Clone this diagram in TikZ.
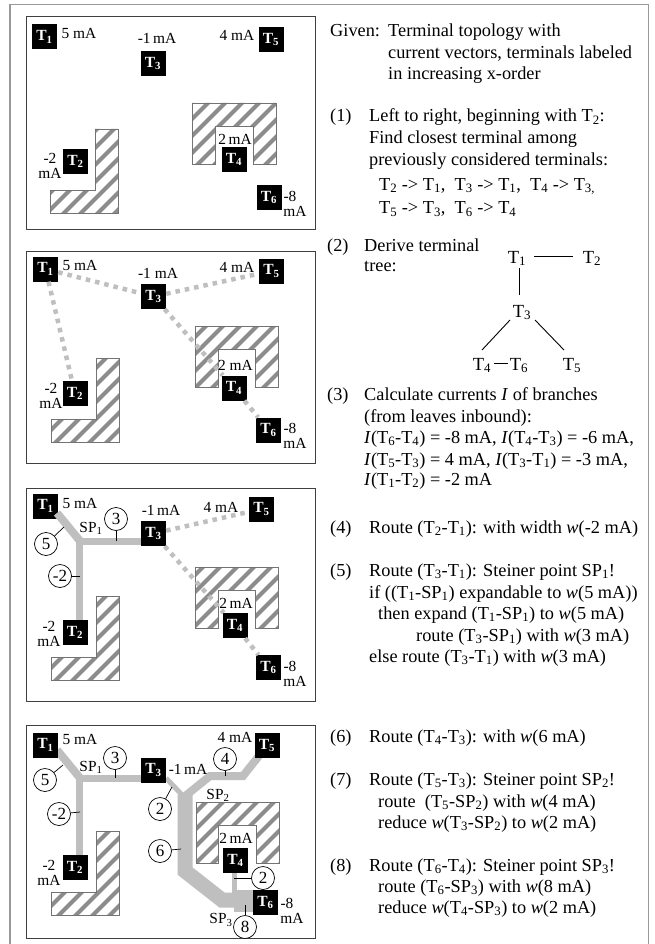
\documentclass[tikz,border=0pt]{standalone}
\usepackage{fontspec}
\setmainfont{Liberation Serif}
\newcommand{\dn}[1]{\textsubscript{#1}}
\newcommand{\Tt}[1]{T\dn{#1}}
\newcommand{\hatchblock}[1]{%
  \begin{scope}
    \clip #1;
    \fill[white] (0,0) rectangle (654,944);
    \foreach \s in {5,22,...,1300} {\draw[hatchline] (0,\s) -- (\s,0);}
  \end{scope}
  \draw[blockedge] #1;}
\tikzset{
  x=1pt,y=-1pt,
  hatchline/.style={line width=4pt,color=black!45},
  blockedge/.style={line width=0.7pt,color=black!55},
  panel/.style={draw=black!75,line width=1pt,fill=white},
  term/.style={fill=black,text=white,font=\fontsize{15.5}{15.5}\selectfont\bfseries,minimum width=25pt,minimum height=25pt,inner sep=0pt},
  lab/.style={font=\fontsize{15.4}{15.5}\selectfont,inner sep=0pt,align=center},
  txt/.style={anchor=base west,font=\fontsize{18.3}{18.3}\selectfont,inner sep=0pt},
  treenode/.style={anchor=base,font=\fontsize{18.5}{18.5}\selectfont,inner sep=1pt},
  treeline/.style={line width=0.9pt,color=black},
  dashroute/.style={line width=4.5pt,color=black!25,dash pattern=on 4.5pt off 5pt},
  route/.style={color=black!25,line join=miter},
  circ/.style={circle,draw=black,line width=0.7pt,fill=white,minimum size=23pt,inner sep=0pt,font=\fontsize{17}{17}\selectfont},
  tick/.style={line width=0.7pt,color=black},
  outer/.style={draw=black!40,line width=1.2pt}
}
\begin{document}
\begin{tikzpicture}
\useasboundingbox (0,0) rectangle (654,944);
\fill[white] (0,0) rectangle (654,944);
\draw[outer] (10,944) -- (10,4.5) -- (648.5,4.5) -- (648.5,944);

% ---------- panel 1
\draw[panel] (26,17) rectangle (315,229);
\hatchblock{(50,190) -- (95,190) -- (95,129) -- (118,129) -- (118,213) -- (50,213) -- cycle}
\hatchblock{(192,103) -- (276,103) -- (276,164) -- (253,164) -- (253,126) -- (215,126) -- (215,164) -- (192,164) -- cycle}
\node[term] (a1) at (44.5,37) {\Tt{1}};
\node[term] (a2) at (75.5,161.5) {\Tt{2}};
\node[term] (a3) at (153,63.5) {\Tt{3}};
\node[term] (a4) at (234,159.5) {\Tt{4}};
\node[term] (a5) at (271,39.5) {\Tt{5}};
\node[term] (a6) at (269,197.5) {\Tt{6}};
\node[lab] (al1) at (79,33) {5 mA};
\node[lab] (al3) at (157,38) {-1\,mA};
\node[lab] (al5) at (237,35) {4 mA};
\node[lab] (al2) at (50,166) {-2\\mA};
\node[lab] (al4) at (235,139) {2\,mA};
\node[lab] (al6) at (295,204) {\hspace*{-10pt}-8\\mA};

% ---------- panel 2
\draw[panel] (26,251) rectangle (315,463);
\hatchblock{(51,419) -- (96,419) -- (96,358) -- (119,358) -- (119,442) -- (51,442) -- cycle}
\hatchblock{(195,326) -- (278,326) -- (278,387) -- (255,387) -- (255,349) -- (218,349) -- (218,387) -- (195,387) -- cycle}
\node[term] (b1) at (45.5,269) {\Tt{1}};
\node[term] (b2) at (75,393.5) {\Tt{2}};
\node[term] (b3) at (153.5,296.5) {\Tt{3}};
\node[term] (b4) at (234,388) {\Tt{4}};
\node[term] (b5) at (271.5,271) {\Tt{5}};
\node[term] (b6) at (268.5,430) {\Tt{6}};
\draw[dashroute] (b1) -- (b2);
\draw[dashroute] (b1) -- (b3);
\draw[dashroute] (b3) -- (b5);
\draw[dashroute] (b3) -- (b4);
\draw[dashroute] (b4) -- (b6);
\node[lab] (bl1) at (80,265) {5 mA};
\node[lab] (bl3) at (158,273) {-1 mA};
\node[lab] (bl5) at (237,267) {4 mA};
\node[lab] (bl2) at (51,396) {-2\\mA};
\node[lab] (bl4) at (235.5,365) {2 mA};
\node[lab] (bl6) at (295,436) {\hspace*{-10pt}-8\\mA};

% ---------- panel 3
\draw[panel] (26,488) rectangle (315,701);
\hatchblock{(51,657) -- (96,657) -- (96,596) -- (119,596) -- (119,680) -- (51,680) -- cycle}
\hatchblock{(195,567) -- (278,567) -- (278,628) -- (255,628) -- (255,590) -- (218,590) -- (218,628) -- (195,628) -- cycle}
\node[term] (c1) at (45.5,506) {\Tt{1}};
\node[term] (c2) at (75,632.5) {\Tt{2}};
\node[term] (c3) at (153.5,533.5) {\Tt{3}};
\node[term] (c4) at (235,625.5) {\Tt{4}};
\node[term] (c5) at (261.5,509) {\Tt{5}};
\node[term] (c6) at (268.5,667.5) {\Tt{6}};
\coordinate (csp1) at (80,541);
\coordinate (ct3) at (141,541);
\coordinate (cv1) at (79.5,540);
\coordinate (ct2) at (79.5,620);
\coordinate (ct1) at (57,513);
\draw[route,line width=8pt] (ct1) -- (csp1);
\draw[route,line width=7pt] (csp1) -- (ct3);
\draw[route,line width=7pt] (cv1) -- (ct2);
\draw[dashroute] (c3) -- (c5);
\draw[dashroute] (c3) -- (c4);
\draw[dashroute] (c4) -- (c6);
\node[lab] (cl1) at (80,503) {5 mA};
\node[lab] (cl3) at (161,510) {-1\,mA};
\node[lab] (cl5) at (221,507) {4 mA};
\node[lab] (cl2) at (49,634) {-2\\mA};
\node[lab] (cl4) at (236,603) {2\,mA};
\node[lab] (cl6) at (295,674) {\hspace*{-10pt}-8\\mA};
\node[lab] (csp) at (91,528) {SP\dn{1}};
\node[circ] (cc5) at (46,544) {5};
\node[circ] (cc3) at (116,519) {3};
\node[circ] (cc2) at (60,576) {-2};
\draw[tick] (cc5) -- (64,527);
\draw[tick] (cc3) -- (116,541);
\draw[tick] (cc2) -- (80,576);

% ---------- panel 4
\draw[panel] (26,725) rectangle (315,938);
\hatchblock{(51,892) -- (96,892) -- (96,831) -- (119,831) -- (119,915) -- (51,915) -- cycle}
\hatchblock{(196,802) -- (279,802) -- (279,863) -- (256,863) -- (256,825) -- (218,825) -- (218,863) -- (196,863) -- cycle}
\coordinate (dt1) at (57,750);
\coordinate (dsp1) at (80,778);
\coordinate (dv1) at (79.5,777);
\coordinate (dt2) at (79.5,855);
\coordinate (dt3) at (141,778);
\coordinate (dt3b) at (166,778);
\coordinate (dsp2) at (184,797);
\coordinate (dsp2b) at (185,795);
\coordinate (da) at (210,776);
\coordinate (db) at (243,776);
\coordinate (dt5) at (262,752);
\coordinate (dc) at (185,871);
\coordinate (dd) at (222,900);
\coordinate (dsp3) at (234,900);
\coordinate (dsp3b) at (234,901);
\coordinate (dt6) at (253,901);
\coordinate (dt4) at (234,873);
\draw[route,line width=8pt] (dt1) -- (dsp1);
\draw[route,line width=7pt] (dsp1) -- (dt3);
\draw[route,line width=7pt] (dv1) -- (dt2);
\draw[route,line width=5pt] (dt3b) -- (dsp2);
\draw[route,line width=8pt] (dsp2) -- (da) -- (db) -- (dt5);
\draw[route,line width=15pt] (dsp2b) -- (dc) -- (dd) -- (dsp3);
\draw[route,line width=22pt] (dsp3b) -- (dt6);
\draw[route,line width=5pt] (dt4) -- (dsp3);
\node[term] (d1) at (45.5,745) {\Tt{1}};
\node[term] (d2) at (75,867.5) {\Tt{2}};
\node[term] (d3) at (153.5,770) {\Tt{3}};
\node[term] (d4) at (235.5,860.5) {\Tt{4}};
\node[term] (d5) at (267,745.5) {\Tt{5}};
\node[term] (d6) at (265.5,902.5) {\Tt{6}};
\node[lab] (dl1) at (80,739) {5 mA};
\node[lab] (dl3) at (188,769) {-1\,mA};
\node[lab] (dl5) at (235,737) {4 mA};
\node[lab] (dl2) at (49,873) {-2\\mA};
\node[lab] (dl4) at (236,838) {2\,mA};
\node[lab] (dl6) at (292,911) {\hspace*{-10pt}-8\\mA};
\node[lab] (dsa) at (91,767) {SP\dn{1}};
\node[lab] (dsb) at (218,795) {SP\dn{2}};
\node[lab] (dsc) at (221,920) {SP\dn{3}};
\node[circ] (dc5) at (45,780) {5};
\node[circ] (dc3) at (115,758) {3};
\node[circ] (dc2) at (59,814) {-2};
\node[circ] (dcb) at (160,809) {2};
\node[circ] (dc6) at (160,851) {6};
\node[circ] (dc4) at (225,759) {4};
\node[circ] (dcr) at (263,878) {2};
\node[circ] (dc8) at (245,927) {8};
\draw[tick] (dc5) -- (63,765);
\draw[tick] (dc3) -- (115,778);
\draw[tick] (dc2) -- (80,812);
\draw[tick] (dcb) -- (172,787);
\draw[tick] (dc6) -- (181,849);
\draw[tick] (dc4) -- (225,776);
\draw[tick] (dcr) -- (234,878);
\draw[tick] (dc8) -- (245,905);

% ---------- right text
\node[txt] (g0) at (330,37) {Given:};
\node[txt] (g1) at (388,37) {Terminal topology with};
\node[txt] (g2) at (388,58.5) {current vectors, terminals labeled};
\node[txt] (g3) at (388,80) {in increasing x-order};
\node[txt] (s1) at (330,122) {(1)};
\node[txt] (s1a) at (369,122) {Left to right, beginning with \Tt{2}:};
\node[txt] (s1b) at (369,143.5) {Find closest terminal among};
\node[txt] (s1c) at (369,165) {previously considered terminals:};
\node[txt] (s1d) at (379,190) {\Tt{2} -> \Tt{1},\ \ \Tt{3} -> \Tt{1},\ \ \Tt{4} -> \Tt{3\rlap{,}}};
\node[txt] (s1e) at (379,213.5) {\Tt{5} -> \Tt{3},\ \ \Tt{6} -> \Tt{4}};

\node[txt] (s2) at (327,251) {(2)};
\node[txt] (s2a) at (364,251) {Derive terminal};
\node[txt] (s2b) at (364,271) {tree:};
\node[treenode] (t1) at (517,263) {\Tt{1}};
\node[treenode] (t2) at (592,263) {\Tt{2}};
\node[treenode] (t3) at (522,317) {\Tt{3}};
\node[treenode] (t4) at (482,370) {\Tt{4}};
\node[treenode] (t6) at (519,370) {\Tt{6}};
\node[treenode] (t5) at (572,370) {\Tt{5}};
\coordinate (t1e) at (534,256);
\coordinate (t2w) at (573,256);
\coordinate (t1s) at (519,268);
\coordinate (t3n) at (519,295);
\coordinate (t3sw) at (510,320);
\coordinate (t4n) at (482,350);
\coordinate (t3se) at (535,320);
\coordinate (t5n) at (564,350);
\coordinate (t4e) at (494,363);
\coordinate (t6w) at (508,363);
\draw[treeline] (t1e) -- (t2w);
\draw[treeline] (t1s) -- (t3n);
\draw[treeline] (t3sw) -- (t4n);
\draw[treeline] (t3se) -- (t5n);
\draw[treeline] (t4e) -- (t6w);

\node[txt] (s3) at (327,400) {(3)};
\node[txt] (s3a) at (364,400) {Calculate currents \textit{I} of branches};
\node[txt] (s3b) at (364,422) {(from leaves inbound):};
\node[txt] (s3c) at (364,443) {\textit{I}(\Tt{6}-\Tt{4}) = -8 mA, \textit{I}(\Tt{4}-\Tt{3}) = -6 mA,};
\node[txt] (s3d) at (364,465) {\textit{I}(\Tt{5}-\Tt{3}) = 4 mA, \textit{I}(\Tt{3}-\Tt{1}) = -3 mA,};
\node[txt] (s3e) at (364,485) {\textit{I}(\Tt{1}-\Tt{2}) = -2 mA};

\node[txt] (s4) at (330,533) {(4)};
\node[txt] (s4a) at (369,533) {Route (\Tt{2}-\Tt{1}): with width \textit{w}(-2 mA)};

\node[txt] (s5) at (330,576) {(5)};
\node[txt] (s5a) at (369,576) {Route (\Tt{3}-\Tt{1}): Steiner point SP\dn{1}!};
\node[txt] (s5b) at (369,598) {if ((\Tt{1}-SP\dn{1}) expandable to \textit{w}(5 mA))};
\node[txt] (s5c) at (378,619) {then expand (\Tt{1}-SP\dn{1}) to \textit{w}(5 mA)};
\node[txt] (s5d) at (416,641) {route (\Tt{3}-SP\dn{1}) with \textit{w}(3 mA)};
\node[txt] (s5e) at (369,662) {else route (\Tt{3}-\Tt{1}) with \textit{w}(3 mA)};

\node[txt] (s6) at (330,742) {(6)};
\node[txt] (s6a) at (369,742) {Route (\Tt{4}-\Tt{3}): with \textit{w}(6 mA)};

\node[txt] (s7) at (330,785) {(7)};
\node[txt] (s7a) at (369,785) {Route (\Tt{5}-\Tt{3}): Steiner point SP\dn{2}!};
\node[txt] (s7b) at (378,807) {route \ (\Tt{5}-SP\dn{2}) with \textit{w}(4 mA)};
\node[txt] (s7c) at (378,828) {reduce \textit{w}(\Tt{3}-SP\dn{2}) to \textit{w}(2 mA)};

\node[txt] (s8) at (330,871) {(8)};
\node[txt] (s8a) at (369,871) {Route (\Tt{6}-\Tt{4}): Steiner point SP\dn{3}!};
\node[txt] (s8b) at (378,892) {route (\Tt{6}-SP\dn{3}) with \textit{w}(8 mA)};
\node[txt] (s8c) at (378,913) {reduce \textit{w}(\Tt{4}-SP\dn{3}) to \textit{w}(2 mA)};
\end{tikzpicture}
\end{document}
